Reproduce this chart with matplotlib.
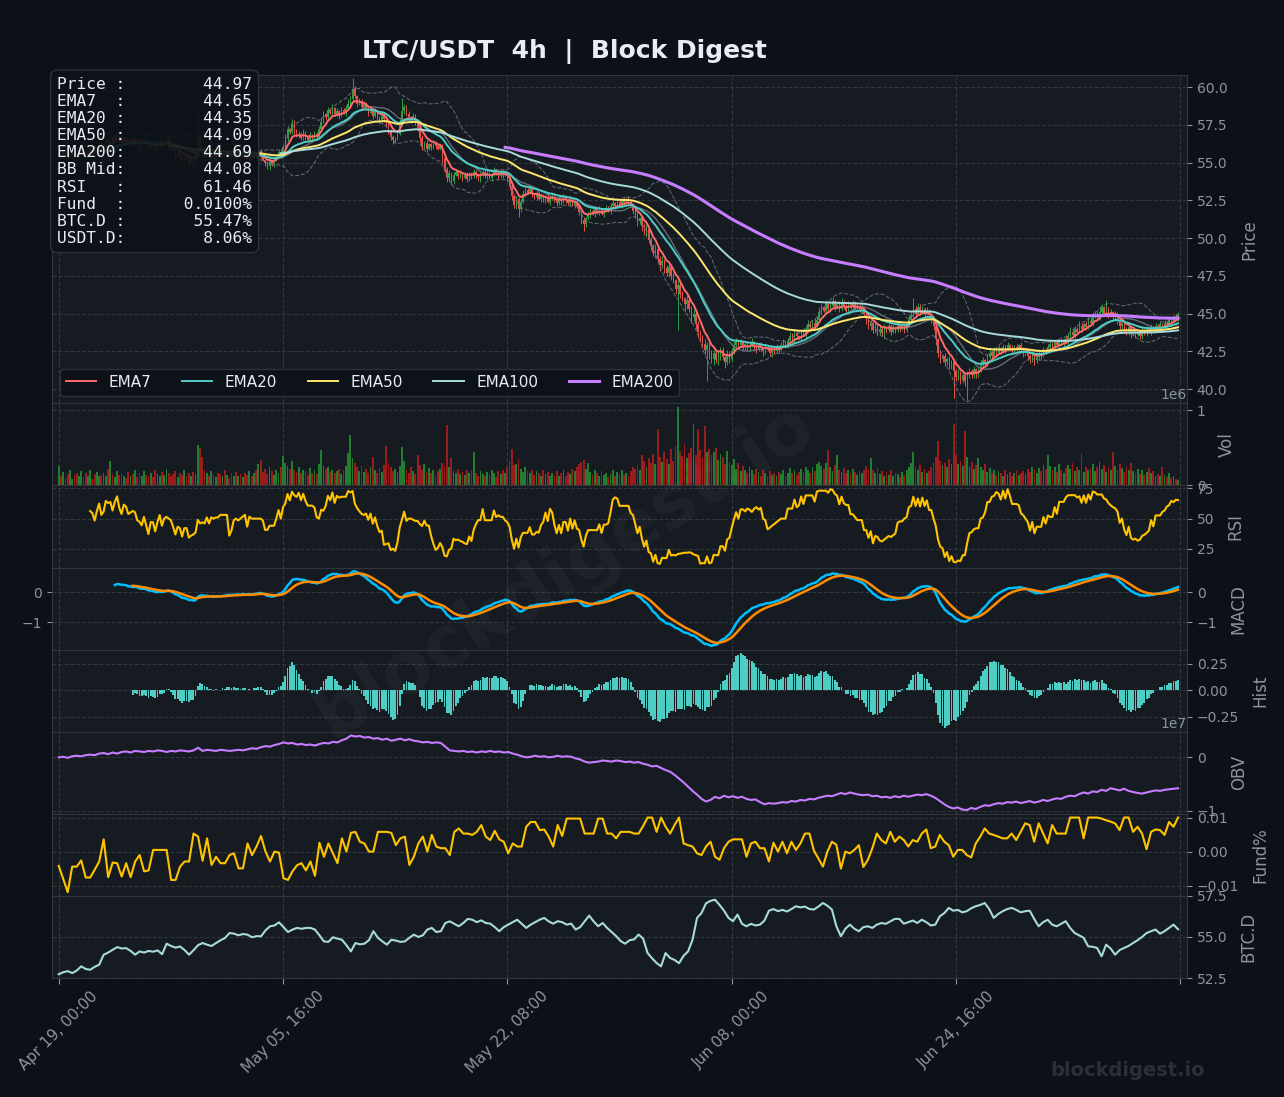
import matplotlib
matplotlib.use("Agg")
import matplotlib.pyplot as plt
from matplotlib.ticker import MultipleLocator
import numpy as np
import pandas as pd

# ---- data (4h bars starting Apr 19 00:00) ----
start_time = "2025-04-19 00:00"

closes = [
    55.6, 55.4, 55.7, 55.5, 55.3, 55.6, 55.8, 55.5, 55.4, 55.7,
    55.9, 55.6, 55.5, 55.8, 56.0, 55.7, 55.6, 55.9, 56.1, 55.8,
    56.2, 56.5, 56.3, 56.7, 56.4, 56.6, 56.9, 56.5, 56.3, 56.6,
    56.4, 56.2, 56.5, 56.3, 56.6, 56.4, 56.1, 56.3, 56.5, 56.2,
    56.0, 56.3, 56.1, 55.9, 56.2, 56.4, 56.1, 56.3, 56.7, 56.4,
    56.0, 55.8, 55.5, 55.7, 55.4, 55.2, 55.5, 55.3, 55.0, 55.3,
    55.1, 55.4, 56.6, 56.0, 55.7, 55.4, 55.6, 55.3, 55.5, 55.2,
    55.6, 55.4, 55.3, 55.6, 55.4, 55.7, 55.5, 55.3, 55.6, 55.4,
    55.5, 55.3, 55.6, 55.4, 55.2, 55.5, 55.3, 55.6, 55.4, 55.7,
    55.5, 55.2, 55.0, 54.8, 55.1, 54.9, 55.2, 55.4, 55.7, 55.5,
    56.0, 56.6, 57.2, 57.0, 57.6, 57.1, 56.8, 56.9, 56.6, 57.0,
    56.7, 56.5, 56.8, 56.6, 56.9, 56.7, 57.2, 57.7, 58.2, 58.0,
    58.5, 58.3, 58.6, 58.2, 58.4, 58.1, 58.5, 58.3, 58.6, 58.9,
    59.2, 59.9, 59.4, 58.9, 59.1, 58.7, 58.9, 58.6, 58.3, 58.5,
    58.1, 58.4, 58.0, 57.8, 58.2, 57.9, 57.5, 57.1, 56.7, 56.5,
    56.6, 56.9, 57.6, 58.4, 58.7, 58.2, 58.0, 57.8, 58.1, 57.7,
    57.3, 56.6, 56.0, 56.3, 55.9, 56.2, 56.0, 56.3, 56.1, 55.9,
    56.1, 55.3, 54.6, 54.0, 54.3, 53.8, 54.2, 54.4, 54.1, 54.3,
    54.0, 54.2, 53.9, 54.3, 54.1, 54.4, 54.2, 53.9, 54.2, 54.4,
    54.1, 54.3, 54.0, 54.2, 54.5, 54.3, 54.1, 54.4, 54.2, 54.3,
    54.0, 53.4, 52.8, 52.2, 52.6, 51.9, 52.4, 52.9, 53.2, 53.0,
    53.3, 52.9, 52.7, 53.0, 52.6, 52.8, 52.5, 52.7, 52.4, 52.6,
    52.8, 52.5, 52.3, 52.6, 52.4, 52.7, 52.5, 52.3, 52.6, 52.2,
    52.4, 52.1, 51.7, 51.2, 50.9, 51.3, 51.5, 51.8, 51.6, 51.9,
    51.7, 51.9, 51.6, 51.8, 52.0, 51.8, 52.1, 52.3, 52.1, 52.4,
    52.2, 52.5, 52.3, 52.6, 52.4, 52.2, 51.8, 51.5, 51.1, 51.3,
    50.8, 50.4, 50.6, 49.9, 49.5, 49.0, 49.3, 48.6, 48.2, 48.5,
    48.0, 47.7, 48.1, 47.5, 47.2, 46.6, 46.9, 46.3, 46.0, 45.6,
    45.9, 45.3, 44.8, 45.0, 44.3, 43.8, 43.4, 43.0, 42.6, 42.9,
    42.3, 42.0, 42.4, 41.9, 42.2, 42.6, 42.1, 41.8, 42.3, 42.0,
    42.5, 42.9, 43.2, 42.9, 43.1, 42.8, 43.0, 42.7, 42.9, 43.1,
    42.8, 42.6, 42.9, 42.7, 42.5, 42.8, 42.6, 42.4, 42.7, 42.5,
    42.8, 42.6, 42.9, 43.1, 42.8, 43.2, 43.5, 43.3, 43.7, 43.5,
    43.4, 43.8, 43.6, 44.0, 44.3, 44.1, 44.4, 44.2, 44.6, 45.1,
    45.4, 45.2, 45.6, 45.3, 45.5, 45.8, 45.4, 45.6, 45.3, 45.7,
    45.5, 45.2, 45.6, 45.4, 45.7, 45.3, 45.5, 45.2, 45.4, 45.0,
    44.6, 44.2, 44.4, 43.9, 44.2, 43.8, 44.0, 43.7, 44.1, 43.9,
    44.2, 43.8, 44.1, 43.9, 44.3, 44.0, 44.2, 43.9, 44.3, 44.6,
    44.9, 45.3, 45.0, 45.4, 45.1, 45.3, 45.0, 45.2, 44.9, 44.6,
    44.2, 43.3, 42.4, 42.0, 42.2, 41.8, 42.0, 41.6, 41.8, 41.2,
    40.8, 41.1, 40.6, 40.9, 40.5, 41.0, 41.2, 40.9, 41.3, 41.0,
    41.2, 41.6, 41.9, 41.7, 42.1, 42.4, 42.2, 42.6, 42.4, 42.7,
    42.5, 42.8, 42.6, 42.9, 42.7, 42.5, 42.8, 42.6, 42.9, 42.7,
    42.4, 42.6, 42.2, 42.0, 42.3, 41.9, 42.1, 42.4, 42.2, 42.6,
    42.5, 42.8, 43.0, 42.8, 43.1, 42.9, 43.2, 43.0, 43.3, 43.1,
    43.5, 43.8, 43.6, 44.0, 43.8, 44.2, 44.0, 44.3, 44.1, 44.5,
    44.4, 44.8, 45.0, 44.7, 45.1, 45.4, 45.0, 45.3, 44.9, 45.1,
    44.8, 45.0, 44.6, 44.2, 44.4, 44.0, 43.8, 44.1, 43.7, 43.9,
    43.6, 43.8, 43.5, 43.9, 43.7, 44.0, 43.8, 44.1, 43.9, 44.2,
    44.0, 44.3, 44.1, 44.4, 44.3, 44.6, 44.5, 44.8, 44.7, 44.97,
]

# wick lengths above / below the candle body, in tenths of a dollar
wick_up = [
    1, 2, 1, 0, 2, 1, 1, 3, 1, 0, 2, 1, 1, 2, 0, 1, 3, 1, 1, 2, 1, 2, 1, 3, 1,
    2, 1, 0, 1, 2, 1, 1, 3, 1, 2, 0, 1, 2, 1, 1, 2, 1, 3, 0, 1, 2, 1, 1, 2, 3,
    1, 0, 2, 1, 1, 2, 1, 0, 1, 2, 1, 1, 17, 2, 1, 1, 2, 0, 1, 1, 2, 1, 3, 1, 0,
    1, 2, 1, 1, 0, 2, 1, 1, 2, 1, 0, 1, 2, 1, 1, 2, 1, 0, 1, 2, 1, 2, 1, 1, 2,
    2, 3, 2, 1, 3, 2, 1, 2, 1, 2, 1, 1, 2, 1, 2, 1, 2, 3, 2, 1, 2, 1, 3, 1, 2,
    1, 2, 1, 2, 3, 2, 7, 2, 1, 2, 1, 2, 1, 1, 2, 1, 2, 1, 1, 2, 1, 1, 2, 1, 1,
    1, 2, 3, 9, 2, 1, 2, 1, 2, 1, 1, 1, 2, 1, 2, 1, 1, 2, 1, 1, 1, 1, 2, 1, 2,
    1, 2, 1, 1, 2, 1, 1, 2, 1, 1, 2, 1, 1, 2, 1, 1, 2, 1, 1, 2, 1, 2, 1, 1, 2,
    1, 1, 2, 1, 2, 1, 2, 3, 2, 1, 2, 1, 1, 2, 1, 2, 1, 1, 2, 1, 2, 1, 1, 2, 1,
    2, 1, 1, 2, 1, 1, 1, 2, 1, 2, 1, 2, 2, 1, 2, 1, 2, 1, 1, 2, 1, 2, 2, 1, 2,
    2, 1, 2, 1, 2, 1, 1, 1, 2, 1, 1, 2, 3, 1, 2, 1, 3, 1, 2, 3, 1, 2, 3, 1, 2,
    1, 3, 1, 2, 1, 3, 1, 2, 3, 1, 2, 1, 2, 3, 2, 2, 3, 2, 1, 3, 2, 2, 1, 3, 2,
    2, 3, 2, 1, 2, 1, 2, 1, 2, 3, 1, 2, 1, 2, 1, 2, 1, 2, 1, 1, 2, 1, 2, 2, 1,
    2, 3, 2, 3, 2, 1, 2, 1, 2, 3, 2, 2, 3, 2, 3, 2, 1, 3, 2, 2, 3, 1, 2, 2, 3,
    2, 1, 2, 1, 2, 1, 2, 1, 2, 1, 1, 1, 2, 1, 2, 1, 2, 1, 2, 1, 2, 1, 2, 1, 2,
    1, 2, 1, 2, 3, 2, 7, 2, 3, 2, 2, 1, 2, 1, 1, 1, 1, 1, 2, 1, 2, 1, 2, 1, 1,
    1, 2, 1, 2, 1, 2, 2, 1, 2, 1, 2, 3, 2, 1, 2, 3, 1, 2, 1, 2, 1, 2, 1, 2, 1,
    2, 1, 2, 1, 2, 1, 2, 1, 1, 2, 1, 2, 1, 1, 2, 1, 2, 3, 2, 1, 2, 1, 2, 1, 2,
    2, 3, 2, 2, 1, 3, 2, 1, 2, 3, 2, 3, 2, 1, 3, 2, 1, 6, 1, 2, 1, 2, 1, 1, 2,
    1, 1, 2, 1, 2, 1, 2, 1, 2, 1, 2, 1, 2, 1, 2, 1, 2, 1, 2, 1, 2, 2, 1, 2, 1,
]
wick_dn = [
    2, 1, 1, 2, 1, 0, 1, 2, 1, 1, 2, 1, 0, 1, 2, 1, 1, 2, 1, 1, 2, 1, 1, 1, 2,
    1, 1, 2, 1, 1, 2, 1, 1, 2, 1, 1, 2, 1, 1, 2, 1, 1, 2, 1, 1, 2, 1, 1, 2, 1,
    2, 1, 3, 1, 2, 1, 1, 2, 3, 1, 2, 1, 1, 2, 3, 2, 1, 1, 2, 1, 2, 1, 2, 1, 1,
    1, 2, 1, 1, 2, 1, 2, 1, 1, 2, 1, 1, 2, 1, 1, 2, 1, 2, 2, 3, 1, 2, 1, 1, 2,
    1, 1, 2, 1, 1, 2, 1, 2, 1, 1, 2, 1, 1, 2, 1, 2, 1, 1, 1, 2, 1, 1, 2, 1, 1,
    2, 1, 1, 2, 1, 1, 2, 1, 2, 1, 2, 1, 1, 2, 1, 2, 1, 2, 2, 1, 2, 1, 2, 2, 3,
    2, 1, 1, 1, 2, 1, 1, 2, 1, 2, 2, 3, 2, 1, 2, 1, 2, 1, 2, 1, 1, 3, 2, 3, 2,
    3, 2, 1, 2, 1, 2, 1, 2, 1, 2, 1, 2, 1, 2, 1, 1, 2, 1, 2, 1, 1, 2, 1, 2, 1,
    2, 2, 3, 2, 3, 5, 2, 1, 2, 1, 1, 2, 1, 2, 1, 2, 1, 2, 1, 2, 1, 1, 2, 1, 2,
    1, 2, 1, 2, 1, 2, 1, 2, 3, 4, 2, 1, 2, 1, 2, 1, 2, 1, 2, 1, 1, 2, 1, 2, 1,
    1, 2, 1, 1, 2, 1, 2, 2, 3, 2, 3, 2, 3, 2, 3, 2, 3, 2, 4, 2, 3, 2, 3, 3, 2,
    3, 27, 3, 2, 4, 3, 2, 4, 3, 3, 4, 3, 3, 3, 21, 3, 3, 4, 2, 3, 3, 2, 4, 2, 3,
    2, 2, 1, 2, 1, 2, 2, 1, 2, 1, 2, 2, 1, 2, 3, 2, 1, 2, 3, 2, 1, 2, 1, 2, 1,
    1, 2, 1, 2, 2, 1, 2, 1, 2, 1, 2, 1, 2, 1, 1, 2, 1, 2, 1, 2, 1, 2, 1, 2, 1,
    2, 1, 2, 1, 2, 1, 2, 1, 2, 2, 3, 2, 3, 2, 2, 3, 2, 2, 3, 2, 1, 2, 1, 2, 1,
    2, 1, 2, 1, 2, 1, 1, 2, 1, 2, 1, 2, 1, 2, 2, 3, 4, 3, 3, 2, 3, 2, 3, 3, 18,
    3, 2, 3, 2, 3, 12, 3, 2, 2, 3, 2, 1, 2, 1, 2, 1, 2, 1, 2, 1, 2, 1, 2, 1, 2,
    1, 2, 1, 2, 2, 3, 2, 3, 3, 2, 3, 2, 2, 2, 1, 2, 1, 2, 1, 2, 1, 2, 1, 2, 1,
    1, 2, 1, 2, 1, 1, 2, 1, 2, 1, 1, 2, 1, 2, 1, 2, 1, 1, 2, 1, 2, 2, 3, 2, 2,
    3, 2, 2, 3, 2, 2, 1, 2, 2, 1, 2, 1, 2, 1, 2, 1, 1, 2, 1, 1, 1, 2, 1, 1, 2,
]

# volume in millions
volumes = [
    .26, .12, .18, .10, .15, .21, .09, .14, .17, .12,
    .19, .11, .16, .13, .20, .09, .15, .18, .12, .14,
    .17, .13, .22, .32, .15, .11, .19, .14, .16, .12,
    .10, .18, .13, .15, .21, .11, .16, .12, .19, .14,
    .13, .17, .11, .20, .15, .12, .18, .14, .22, .16,
    .12, .15, .19, .11, .17, .14, .21, .13, .16, .12,
    .18, .15, .54, .50, .38, .20, .16, .13, .19, .14,
    .11, .17, .15, .12, .20, .14, .10, .16, .13, .18,
    .12, .15, .11, .17, .14, .19, .13, .16, .21, .28,
    .34, .18, .22, .15, .25, .19, .14, .21, .17, .24,
    .39, .30, .26, .22, .33, .20, .18, .25, .16, .21,
    .19, .14, .23, .17, .21, .15, .28, .47, .26, .22,
    .24, .18, .21, .16, .19, .22, .15, .20, .26, .43,
    .67, .37, .30, .24, .19, .26, .18, .22, .17, .25,
    .38, .21, .16, .23, .18, .27, .53, .30, .24, .19,
    .22, .18, .26, .51, .33, .20, .17, .24, .19, .15,
    .41, .27, .21, .29, .18, .23, .16, .20, .14, .19,
    .22, .30, .26, .81, .24, .36, .19, .17, .22, .15,
    .18, .14, .21, .16, .20, .45, .17, .13, .19, .15,
    .12, .18, .14, .21, .16, .11, .19, .15, .20, .17,
    .24, .33, .48, .27, .29, .35, .22, .18, .25, .19,
    .16, .21, .14, .19, .17, .12, .20, .15, .18, .13,
    .17, .14, .19, .12, .16, .21, .13, .18, .15, .22,
    .19, .24, .28, .31, .34, .22, .30, .18, .14, .20,
    .16, .12, .19, .14, .17, .11, .15, .20, .13, .18,
    .15, .21, .14, .17, .12, .19, .24, .22, .27, .20,
    .41, .32, .25, .36, .30, .42, .28, .75, .38, .31,
    .44, .35, .29, .48, .33, .52, 1.04, .46, .39, .55,
    .37, .43, .50, .82, .41, .75, .47, .36, .79, .44,
    .48, .40, .45, .50, .34, .42, .38, .29, .46, .31,
    .27, .35, .22, .30, .19, .26, .21, .17, .24, .20,
    .15, .22, .18, .13, .20, .16, .12, .19, .14, .17,
    .13, .18, .15, .21, .12, .17, .23, .16, .20, .14,
    .18, .22, .16, .25, .20, .17, .24, .19, .28, .31,
    .26, .22, .30, .47, .24, .19, .27, .40, .21, .18,
    .23, .17, .20, .15, .22, .18, .14, .19, .16, .21,
    .26, .22, .36, .20, .17, .24, .15, .19, .13, .18,
    .14, .20, .12, .17, .15, .11, .18, .14, .21, .25,
    .30, .45, .24, .20, .27, .18, .22, .16, .19, .24,
    .31, .38, .59, .33, .27, .30, .24, .35, .28, .82,
    .40, .29, .33, .26, .72, .38, .25, .31, .22, .27,
    .36, .24, .20, .28, .18, .23, .16, .21, .14, .19,
    .17, .13, .20, .15, .18, .12, .16, .21, .14, .17,
    .19, .15, .22, .18, .25, .20, .16, .23, .19, .27,
    .22, .41, .26, .20, .24, .18, .29, .21, .17, .23,
    .27, .22, .30, .19, .25, .21, .43, .18, .24, .20,
    .23, .28, .19, .25, .31, .22, .27, .18, .24, .21,
    .44, .26, .20, .29, .23, .18, .25, .21, .30, .19,
    .17, .22, .15, .20, .14, .18, .23, .16, .19, .13,
    .15, .12, .25, .14, .11, .16, .10, .13, .08, .07,
]

# OBV in units of 1e7, one value per 8h
obv_e7 = [
    0.00, 0.01, -0.01, 0.02, 0.03, 0.02, 0.04, 0.05, 0.04, 0.07,
    0.08, 0.06, 0.09, 0.07, 0.10, 0.11, 0.09, 0.12, 0.11, 0.10,
    0.12, 0.11, 0.13, 0.12, 0.10, 0.12, 0.11, 0.13, 0.12, 0.11,
    0.13, 0.18, 0.12, 0.14, 0.13, 0.12, 0.14, 0.13, 0.12, 0.13,
    0.14, 0.13, 0.15, 0.17, 0.16, 0.19, 0.21, 0.20, 0.23, 0.25,
    0.28, 0.26, 0.27, 0.24, 0.25, 0.23, 0.24, 0.22, 0.25, 0.27,
    0.26, 0.29, 0.28, 0.32, 0.35, 0.41, 0.39, 0.40, 0.37, 0.38,
    0.35, 0.36, 0.33, 0.35, 0.31, 0.33, 0.35, 0.32, 0.34, 0.31,
    0.30, 0.28, 0.29, 0.27, 0.28, 0.27, 0.20, 0.13, 0.12, 0.11,
    0.12, 0.10, 0.11, 0.09, 0.11, 0.10, 0.12, 0.10, 0.11, 0.09,
    0.10, 0.07, 0.05, 0.02, 0.00, 0.01, 0.03, 0.01, 0.02, 0.00,
    0.01, 0.03, 0.01, 0.02, 0.01, -0.02, -0.04, -0.08, -0.10, -0.09,
    -0.08, -0.06, -0.07, -0.08, -0.06, -0.07, -0.09, -0.08, -0.10, -0.09,
    -0.12, -0.14, -0.17, -0.16, -0.20, -0.24, -0.27, -0.33, -0.40, -0.47,
    -0.55, -0.63, -0.70, -0.78, -0.83, -0.80, -0.74, -0.77, -0.72, -0.75,
    -0.73, -0.76, -0.74, -0.78, -0.80, -0.79, -0.84, -0.88, -0.86, -0.87,
    -0.86, -0.84, -0.85, -0.82, -0.83, -0.80, -0.81, -0.78, -0.79, -0.76,
    -0.74, -0.72, -0.73, -0.70, -0.67, -0.69, -0.66, -0.68, -0.70, -0.71,
    -0.70, -0.73, -0.72, -0.75, -0.74, -0.76, -0.73, -0.75, -0.72, -0.74,
    -0.72, -0.70, -0.71, -0.69, -0.72, -0.76, -0.82, -0.88, -0.93, -0.96,
    -0.94, -0.98, -0.99, -0.95, -0.97, -0.93, -0.90, -0.91, -0.88, -0.86,
    -0.87, -0.84, -0.85, -0.83, -0.86, -0.84, -0.82, -0.85, -0.83, -0.80,
    -0.82, -0.79, -0.77, -0.78, -0.74, -0.72, -0.73, -0.69, -0.66, -0.68,
    -0.64, -0.65, -0.61, -0.63, -0.58, -0.60, -0.62, -0.59, -0.63, -0.65,
    -0.67, -0.68, -0.66, -0.64, -0.62, -0.63, -0.61, -0.60, -0.59, -0.58,
]

# funding rate in units of 0.0001 %, one value per 8h
funding_e4 = [
    -42, -80, -119, -44, -44, -26, -76, -76, -53, -29,
    36, -75, -32, -34, -73, -34, -75, -29, -10, -58,
    -55, 5, 5, 5, 5, -83, -83, -44, -29, -29,
    53, 44, -27, 39, -39, -15, -34, -34, -10, -5,
    -49, -49, 24, -10, 15, 46, 0, -29, 0, -3,
    -78, -83, -58, -40, -34, -55, -29, -71, 26, -15,
    24, -5, -34, 39, 0, 55, 58, 29, 24, 0,
    0, 58, 58, 58, 55, 19, 39, 44, -39, -15,
    24, 44, 0, 49, 15, 10, 10, -10, 58, 68,
    53, 53, 49, 58, 78, 44, 34, 61, 36, 29,
    -5, 24, 15, 15, 73, 87, 87, 63, 65, 44,
    15, 78, 46, 97, 97, 97, 97, 53, 53, 53,
    97, 97, 53, 53, 39, 58, 58, 58, 53, 53,
    75, 100, 100, 58, 100, 73, 53, 78, 100, 24,
    19, 15, -5, -10, 15, 29, -15, -24, 10, 29,
    36, 36, 36, -15, 24, 29, 10, 10, -29, 26,
    0, 29, -5, 29, 5, 24, 53, 53, 3, -20,
    -44, 0, 29, 20, -50, 0, -5, 5, 19, -45,
    -24, 10, 53, 34, 24, 58, 29, 44, 34, 15,
    34, 29, 53, 65, 10, 15, 49, 29, 19, -15,
    5, 5, -10, -17, 24, 44, 68, 53, 49, 44,
    39, 39, 53, 34, 58, 83, 78, 29, 83, 53,
    24, 78, 53, 53, 53, 100, 100, 100, 39, 100,
    100, 100, 97, 92, 88, 83, 63, 100, 100, 58,
    73, 53, 7, 58, 65, 63, 49, 87, 73, 100,
]

# BTC dominance (%), one value per 8h
btc_dom = [
    52.73, 52.85, 52.92, 52.80, 52.95, 53.21, 53.05, 53.00, 53.18, 53.31,
    53.92, 54.05, 54.22, 54.38, 54.30, 54.32, 54.15, 53.92, 54.12, 54.05,
    54.15, 54.10, 54.18, 53.95, 54.59, 54.45, 54.35, 54.42, 54.20, 53.92,
    54.20, 54.50, 54.63, 54.53, 54.45, 54.63, 54.80, 54.94, 55.24, 55.20,
    55.10, 55.18, 55.14, 54.98, 55.05, 55.04, 55.40, 55.65, 55.70, 55.89,
    55.60, 55.30, 55.45, 55.55, 55.50, 55.55, 55.55, 55.45, 55.10, 54.73,
    54.70, 54.98, 54.90, 54.83, 54.50, 54.12, 54.63, 54.55, 54.59, 54.80,
    55.35, 54.95, 54.73, 54.53, 54.83, 54.78, 54.70, 54.73, 54.95, 55.14,
    55.00, 55.10, 55.45, 55.55, 55.30, 55.35, 55.85, 55.95, 55.80, 55.65,
    55.85, 56.10, 56.05, 55.90, 56.01, 55.85, 55.81, 55.60, 55.35, 55.60,
    55.75, 55.90, 56.05, 55.80, 55.55, 55.75, 55.90, 56.05, 56.16, 55.95,
    55.81, 55.96, 55.90, 55.75, 55.81, 55.45, 55.60, 55.95, 56.30, 55.95,
    55.65, 55.85, 55.55, 55.30, 55.05, 54.75, 54.59, 54.80, 54.85, 55.15,
    54.90, 54.02, 53.70, 53.41, 53.21, 54.02, 53.72, 53.60, 53.40, 53.85,
    54.12, 54.83, 56.16, 56.46, 57.05, 57.20, 57.27, 56.95, 56.60, 56.16,
    55.96, 56.36, 55.80, 55.65, 55.80, 55.70, 55.75, 56.00, 56.60, 56.70,
    56.57, 56.65, 56.55, 56.70, 56.87, 56.80, 56.85, 56.70, 56.67, 56.85,
    57.07, 56.90, 56.67, 55.65, 55.04, 55.50, 55.75, 55.50, 55.35, 55.60,
    55.65, 55.55, 55.75, 55.85, 55.80, 55.95, 56.10, 56.10, 55.81, 55.90,
    56.00, 55.85, 56.05, 55.90, 55.70, 55.75, 56.26, 56.45, 56.77, 56.60,
    56.65, 56.50, 56.57, 56.75, 56.87, 56.95, 57.07, 56.70, 56.16, 56.40,
    56.57, 56.70, 56.77, 56.65, 56.50, 56.57, 56.60, 56.10, 55.65, 55.90,
    56.05, 55.75, 55.65, 55.80, 55.96, 55.55, 55.24, 55.10, 54.95, 54.43,
    54.40, 54.33, 53.82, 54.53, 54.30, 53.92, 54.20, 54.33, 54.45, 54.63,
    54.80, 55.00, 55.24, 55.35, 55.45, 55.20, 55.35, 55.55, 55.75, 55.47,
]

info_labels = ["Price", "EMA7", "EMA20", "EMA50", "EMA200", "BB Mid", "RSI", "Fund", "BTC.D", "USDT.D"]
info_values = ["44.97", "44.65", "44.35", "44.09", "44.69", "44.08", "61.46", "0.0100%", "55.47%", "8.06%"]

ema_spans = [7, 20, 50, 100, 200]
ema_colors = ["#ff6b6b", "#4ecdc4", "#ffe66d", "#a8dadc", "#c77dff"]

# ---- style ----
BG = "#0d1117"
PANEL = "#161b22"
GRID = "#30363d"
TXT = "#8b949e"
UP, DOWN = "#2ea043", "#e8504b"
VUP, VDOWN = "#237d2e", "#9b1c1c"

# ---- derived series ----
close = pd.Series(closes, dtype=float)
n = len(close)
x = np.arange(n)
dates = pd.date_range(start_time, periods=n, freq="4h")
opn = close.shift(1).fillna(close.iloc[0])
high = np.maximum(opn, close) + np.array(wick_up) / 10
low = np.minimum(opn, close) - np.array(wick_dn) / 10
up = (close >= opn).values

emas = [close.ewm(span=s, adjust=False, min_periods=s).mean() for s in ema_spans]
bb_mid = close.rolling(20).mean()
bb_std = close.rolling(20).std()
bb_up = bb_mid + 2 * bb_std
bb_lo = bb_mid - 2 * bb_std

delta = close.diff()
gain = delta.clip(lower=0).rolling(14).mean()
loss = (-delta.clip(upper=0)).rolling(14).mean()
rsi = 100 - 100 / (1 + gain / loss)

ema12 = close.ewm(span=12, adjust=False, min_periods=12).mean()
ema26 = close.ewm(span=26, adjust=False, min_periods=26).mean()
macd = ema12 - ema26
signal = macd.ewm(span=9, adjust=False, min_periods=9).mean()
hist = macd - signal

x8h = np.linspace(0, n - 1, len(btc_dom))

# ---- figure ----
fig = plt.figure(figsize=(12.84, 10.97), dpi=100, facecolor=BG)
gs = fig.add_gridspec(8, 1, height_ratios=[4, 1, 1, 1, 1, 1, 1, 1],
                      left=52 / 1284, right=1187 / 1284,
                      top=1 - 75 / 1097, bottom=1 - 978 / 1097, hspace=0)
axes = [fig.add_subplot(gs[0])]
for i in range(1, 8):
    axes.append(fig.add_subplot(gs[i], sharex=axes[0]))
ax_p, ax_v, ax_r, ax_m, ax_h, ax_o, ax_f, ax_b = axes

for ax in axes:
    ax.set_facecolor(PANEL)
    for s in ax.spines.values():
        s.set_color(GRID)
    ax.grid(True, ls="--", color=GRID, lw=0.8)
    ax.set_axisbelow(True)
    ax.yaxis.tick_right()
    ax.yaxis.set_label_position("right")
    ax.tick_params(colors=TXT, labelsize=10)
    ax.tick_params(axis="x", length=0, labelbottom=False)
    ax.yaxis.get_offset_text().set_color(TXT)
    ax.yaxis.get_offset_text().set_fontsize(10)

# price panel
ccol = np.where(up, UP, DOWN)
ax_p.vlines(x, low, high, color=ccol, lw=0.7)
body = (close - opn).values
body = np.where(np.abs(body) < 0.03, 0.03, body)
ax_p.bar(x, body, bottom=opn.values, width=0.6, color=ccol, linewidth=0)
ax_p.plot(x, bb_up, ls="--", color="#6e7681", lw=0.8, alpha=0.8)
ax_p.plot(x, bb_lo, ls="--", color="#6e7681", lw=0.8, alpha=0.8)
ax_p.plot(x, bb_mid, color="#6e7681", lw=1.0, alpha=0.9)
for s, c, e in zip(ema_spans, ema_colors, emas):
    ax_p.plot(x, e, color=c, lw=2.2 if s == 200 else 1.4, label=f"EMA{s}")
ax_p.set_ylim(low.min() - 0.25, high.max() + 0.2)
ax_p.yaxis.set_major_locator(MultipleLocator(2.5))
leg = ax_p.legend(loc="lower left", ncol=5, fontsize=11, facecolor=BG,
                  edgecolor=GRID, labelcolor="#e6edf3", framealpha=0.9)

info = "\n".join(f"{l:<6}:{v:>13}" for l, v in zip(info_labels, info_values))
ax_p.text(0.0045, 0.995, info, transform=ax_p.transAxes, va="top", ha="left",
          family="DejaVu Sans Mono", fontsize=11.7, color="#e6edf3", linespacing=1.18,
          bbox=dict(boxstyle="round,pad=0.4", fc=BG, ec=GRID, alpha=0.9), zorder=10)

# volume
vols = np.array(volumes) * 1e6
ax_v.bar(x, vols, width=0.8, color=np.where(up, VUP, VDOWN), linewidth=0)
ax_v.set_ylim(0, vols.max() * 1.05)
ax_v.set_yticks([0, 1e6])

# RSI
ax_r.plot(x, rsi, color="#ffc300", lw=1.5)
ax_r.set_yticks([25, 50, 75])

# MACD
ax_m.plot(x, macd, color="#00bfff", lw=1.8)
ax_m.plot(x, signal, color="#ff8c00", lw=1.8)
ax_m.set_yticks([-1, 0])
ax_m.tick_params(axis="y", left=True, labelleft=True, right=True, labelright=True)

# histogram
ax_h.bar(x, hist, width=0.8, color="#4ecdc4", linewidth=0)
ax_h.set_yticks([-0.25, 0, 0.25])

# OBV
ax_o.plot(x8h, np.array(obv_e7) * 1e7, color="#c77dff", lw=1.5)
ax_o.set_yticks([-1e7, 0])

# funding
ax_f.plot(x8h, np.array(funding_e4) * 1e-4, color="#ffc300", lw=1.5)
ax_f.set_yticks([-0.01, 0, 0.01])

# BTC dominance
ax_b.plot(x8h, btc_dom, color="#a8dadc", lw=1.5)
ax_b.set_yticks([52.5, 55.0, 57.5])

for ax, name in zip(axes, ["Price", "Vol", "RSI", "MACD", "Hist", "OBV", "Fund%", "BTC.D"]):
    ax.set_ylabel(name, color=TXT, fontsize=12, labelpad=9)

ticks = list(range(0, n + 1, 100))
ax_b.set_xticks(ticks)
ax_b.set_xticklabels([dates[t].strftime("%b %d, %H:%M") if t < n else "" for t in ticks],
                     rotation=45, ha="center")
ax_b.tick_params(axis="x", length=4, labelbottom=True, colors=TXT, labelsize=11)
ax_p.set_xlim(-3, n + 3)

fig.text(564 / 1284, 1 - 52 / 1097, "LTC/USDT  4h  |  Block Digest", ha="center", va="center",
         fontsize=18, fontweight="bold", color="#e6edf3")
fig.text(0.44, 0.48, "blockdigest.io", ha="center", va="center", fontsize=52,
         fontweight="bold", color="white", alpha=0.035, rotation=32)
fig.text(1205 / 1284, 1 - 1071 / 1097, "blockdigest.io", ha="right", va="center",
         fontsize=14, fontweight="bold", color="#2a3038")

fig.savefig("out.png", dpi=100, facecolor=BG)
